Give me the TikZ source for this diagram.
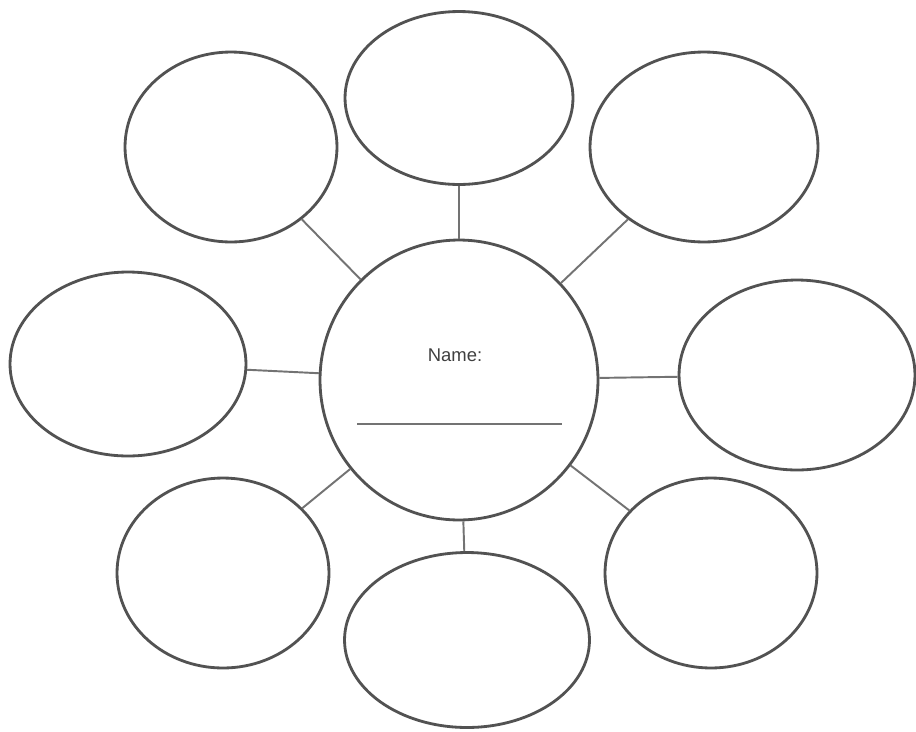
\documentclass[tikz,border=0pt]{standalone}
\usepackage{fontspec}
\setmainfont{Liberation Sans}
\usetikzlibrary{shapes.geometric}
\begin{document}
\begin{tikzpicture}[x=0.02cm,y=-0.02cm,
  bubble/.style={draw=black!68, line width=1.6pt, ellipse, inner sep=0pt},
  link/.style={draw=black!55, line width=1.1pt}]
\useasboundingbox[fill=white] (0,0) rectangle (916,731);
\node[bubble, minimum width=5.56cm, minimum height=5.6cm] (c) at (459,380) {};
\node[bubble, minimum width=4.56cm, minimum height=3.46cm] (t) at (459,98) {};
\node[bubble, minimum width=4.24cm, minimum height=3.8cm] (tl) at (231,147) {};
\node[bubble, minimum width=4.56cm, minimum height=3.8cm] (tr) at (704,147) {};
\node[bubble, minimum width=4.72cm, minimum height=3.68cm] (l) at (128,364) {};
\node[bubble, minimum width=4.72cm, minimum height=3.8cm] (r) at (797,375) {};
\node[bubble, minimum width=4.24cm, minimum height=3.8cm] (bl) at (223,573) {};
\node[bubble, minimum width=4.9cm, minimum height=3.5cm] (b) at (467,640) {};
\node[bubble, minimum width=4.24cm, minimum height=3.8cm] (br) at (711,573) {};
\draw[link] (c) -- (t);
\draw[link] (c) -- (tl);
\draw[link] (c) -- (tr);
\draw[link] (c) -- (l);
\draw[link] (c) -- (r);
\draw[link] (c) -- (bl);
\draw[link] (c) -- (b);
\draw[link] (c) -- (br);
\node[font=\fontsize{10.5}{12}\selectfont, text=black!75] (name) at (455,355) {Name:};
\coordinate (u1) at (357,424);
\coordinate (u2) at (562,424);
\draw[draw=black!55, line width=1.2pt] (u1) -- (u2);
\end{tikzpicture}
\end{document}
